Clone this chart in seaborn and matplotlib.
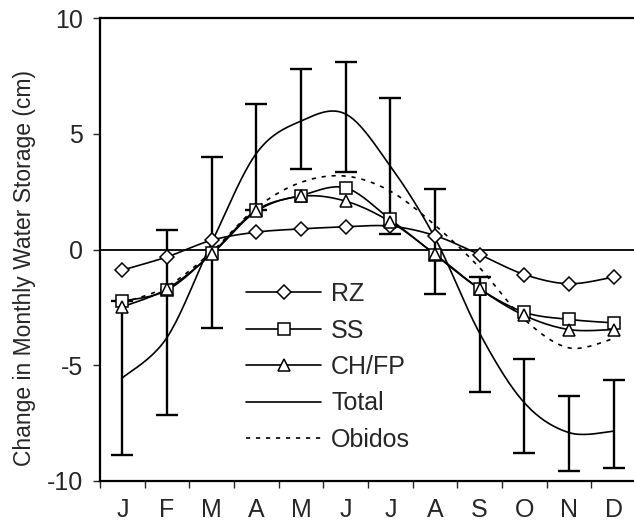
import numpy as np
import pandas as pd
import matplotlib
matplotlib.use("Agg")
import matplotlib.pyplot as plt
import seaborn as sns
from matplotlib.lines import Line2D

# monthly values (cm)
months = ["J", "F", "M", "A", "M", "J", "J", "A", "S", "O", "N", "D"]
rz = [-0.89, -0.32, 0.40, 0.75, 0.89, 0.98, 1.01, 0.60, -0.22, -1.08, -1.48, -1.19]
ss = [-2.23, -1.76, -0.17, 1.70, 2.33, 2.66, 1.30, -0.22, -1.70, -2.71, -3.02, -3.17]
chfp = [-2.48, -1.70, -0.20, 1.65, 2.30, 2.09, 1.20, -0.20, -1.70, -2.85, -3.46, -3.46]
total = [-5.55, -3.80, 0.30, 4.15, 5.55, 5.85, 3.60, 0.50, -3.62, -6.62, -7.91, -7.85]
obidos = [-2.30, -1.60, -0.10, 1.80, 2.90, 3.17, 2.52, 1.05, -0.79, -3.02, -4.25, -3.85]
err_lo = [-8.86, -7.13, -3.41, 1.70, 3.49, 3.34, 0.66, -1.92, -6.16, -8.78, -9.55, -9.43]
err_hi = [-2.23, 0.83, 4.00, 6.29, 7.78, 8.09, 6.54, 2.63, -1.18, -4.72, -6.34, -5.62]


def smooth(y, n=20):
    # Excel style smoothed line (Catmull-Rom through the points)
    y = np.asarray(y, float)
    x = np.arange(len(y), dtype=float)
    xs, ys = [], []
    for i in range(len(y) - 1):
        p0 = y[i - 1] if i > 0 else y[i]
        p3 = y[i + 2] if i + 2 < len(y) else y[i + 1]
        q0 = x[i - 1] if i > 0 else x[i]
        q3 = x[i + 2] if i + 2 < len(y) else x[i + 1]
        t = np.linspace(0, 1, n, endpoint=False)
        c1y, c2y = y[i] + (y[i + 1] - p0) / 6, y[i + 1] - (p3 - y[i]) / 6
        c1x, c2x = x[i] + (x[i + 1] - q0) / 6, x[i + 1] - (q3 - x[i]) / 6
        b = lambda a, b1, b2, c: ((1 - t) ** 3 * a + 3 * (1 - t) ** 2 * t * b1
                                  + 3 * (1 - t) * t ** 2 * b2 + t ** 3 * c)
        xs.extend(b(x[i], c1x, c2x, x[i + 1]))
        ys.extend(b(y[i], c1y, c2y, y[i + 1]))
    xs.append(x[-1])
    ys.append(y[-1])
    return np.array(xs), np.array(ys)


sns.set_style("ticks")
plt.rcParams["font.family"] = ["Liberation Sans", "DejaVu Sans"]
plt.rcParams["axes.unicode_minus"] = False

fig = plt.figure(figsize=(6.34, 5.24), dpi=100)
ax = fig.add_axes([100 / 634, 1 - 481 / 524, 536 / 634, 463 / 524])

x = np.arange(len(months))
lw = 1.2

ax.axhline(0, color="black", lw=1.3, zorder=1)

center = (np.array(err_lo) + np.array(err_hi)) / 2
ax.errorbar(x, center, yerr=[center - np.array(err_lo), np.array(err_hi) - center],
            fmt="none", ecolor="black", elinewidth=1.7, capsize=8, capthick=1.7, zorder=2)

series = [
    ("RZ", rz, "D", "-"),
    ("SS", ss, "s", "-"),
    ("CH/FP", chfp, "^", "-"),
    ("Total", total, None, "-"),
    ("Obidos", obidos, None, (0, (2.5, 3.5))),
]

handles = []
for name, vals, mk, ls in series:
    sx, sy = smooth(vals)
    df = pd.DataFrame({"x": sx, "y": sy})
    sns.lineplot(data=df, x="x", y="y", ax=ax, color="black", lw=lw,
                 linestyle=ls, sort=False, estimator=None, zorder=3)
    if mk is not None:
        ax.plot(x, vals, linestyle="none", marker=mk, ms=8 if mk != "D" else 7.5,
                mfc="white", mec="black", mew=1.1, zorder=4)
    handles.append(Line2D([], [], color="black", lw=lw, linestyle=ls, marker=mk,
                          ms=8 if mk != "D" else 7.5, mfc="white", mec="black", mew=1.1))

ax.legend(handles, [s[0] for s in series], loc="upper left", frameon=False,
          bbox_to_anchor=(246 / 634, 1 - 282 / 524), bbox_transform=fig.transFigure,
          fontsize=18, handlelength=3.0, handletextpad=0.4, labelspacing=0.5,
          borderpad=0, borderaxespad=0)

ax.set_xlim(-0.5, 11.5)
ax.set_ylim(-10, 10)
ax.set_yticks([-10, -5, 0, 5, 10])
ax.set_xticks(x)
ax.set_xticklabels(months)
ax.set_xticks(np.arange(-0.5, 12, 1), minor=True)
ax.tick_params(axis="x", which="major", length=0, pad=12, labelsize=18)
ax.tick_params(axis="x", which="minor", length=5, width=1, direction="out")
ax.tick_params(axis="y", length=5, width=1, direction="out", pad=7.5, labelsize=18)
ax.set_xlabel("")
ax.set_ylabel("Change in Monthly Water Storage (cm)", fontsize=16.5)
ax.yaxis.set_label_coords(-0.1194, 0.46)

for side in ["left", "bottom", "top"]:
    ax.spines[side].set_linewidth(1.6)
    ax.spines[side].set_color("black")
ax.spines["right"].set_visible(False)

fig.savefig("out.png", dpi=100)
